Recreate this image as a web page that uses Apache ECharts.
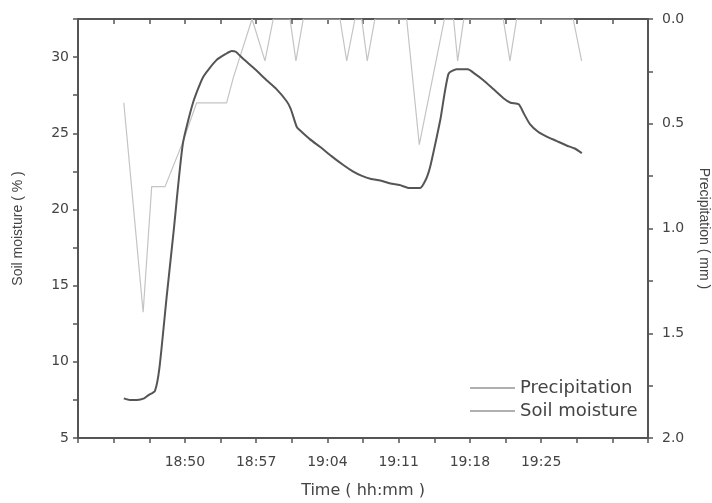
<!DOCTYPE html>
<html>
<head>
<meta charset="utf-8">
<script src="https://cdn.jsdelivr.net/npm/echarts@6/dist/echarts.min.js"></script>
<style>html,body{margin:0;padding:0;background:#fff;}#c{width:712px;height:503px;}</style>
</head>
<body>
<div id="c"></div>
<script>
// Time in minutes after 18:00
const soilTime = [44.0,44.6,45.3,46.0,46.4,47.06,47.5,48.2,48.9,49.8,50.8,51.8,53.1,54.0,54.6,55.0,55.7,56.9,58.0,59.0,60.0,60.4,61.0,61.3,62.3,63.3,64.4,65.6,66.5,67.4,68.3,69.2,70.2,71.1,72.1,73.1,73.7,74.1,74.6,75.1,75.9,76.7,77.8,78.5,79.3,80.3,81.3,82.0,82.8,83.3,83.9,84.7,85.5,86.5,87.5,88.3,89.0];
const soilMoisture = [7.6,7.5,7.5,7.6,7.8,8.1,9.6,14.2,18.6,24.3,27.0,28.7,29.8,30.2,30.4,30.35,29.9,29.2,28.5,27.9,27.1,26.6,25.4,25.2,24.6,24.1,23.5,22.9,22.5,22.2,22.0,21.9,21.7,21.6,21.4,21.4,22.0,22.8,24.3,25.9,28.9,29.2,29.2,28.9,28.5,27.9,27.3,27.0,26.9,26.3,25.6,25.1,24.8,24.5,24.2,24.0,23.7];

const precTime = [44.0,45.9,46.74,48.05,49.7,51.16,54.1,54.76,56.6,57.87,58.68,60.33,60.91,61.63,65.24,65.9,66.71,67.37,67.92,68.67,71.79,73.03,75.5,76.4,76.8,77.4,81.28,81.94,82.59,88.15,88.98];
const precipitation = [0.4,1.4,0.8,0.8,0.6,0.4,0.4,0.28,0.0,0.2,0.0,0.0,0.2,0.0,0.0,0.2,0.0,0.0,0.2,0.0,0.0,0.6,0.0,0.0,0.2,0.0,0.0,0.2,0.0,0.0,0.2];

const xTickLabels = ['18:50','18:57','19:04','19:11','19:18','19:25'];
const xMin = 39.5, xMax = 95.5, xStep = 3.5;

const toMin = s => { const p = s.split(':'); return (+p[0] - 18) * 60 + (+p[1]); };
const fmt = v => { const h = 18 + Math.floor(v / 60); const m = Math.round(v % 60); return h + ':' + (m < 10 ? '0' + m : m); };
const xLabelValues = xTickLabels.map(toMin);
const xTickValues = [];
for (let v = xMin; v <= xMax + 1e-6; v += xStep) xTickValues.push(+v.toFixed(2));

const soilData = soilTime.map((t, i) => [t, soilMoisture[i]]);
const precData = precTime.map((t, i) => [t, precipitation[i]]);

const axisCol = '#555';
const textCol = '#444';
const FONT = 'DejaVu Sans';

const chart = echarts.init(document.getElementById('c'), null, {renderer: 'canvas'});
chart.setOption({
  animation: false,
  backgroundColor: '#fff',
  textStyle: {fontFamily: FONT},
  grid: {left: 78, right: 64, top: 19, bottom: 65, containLabel: false, outerBoundsMode: 'none'},
  legend: {
    orient: 'vertical', left: 465, top: 374, itemWidth: 45, itemHeight: 2, itemGap: 5,
    icon: 'rect',
    textStyle: {fontFamily: FONT, fontSize: 18, color: textCol},
    data: [
      {name: 'Precipitation', icon: 'rect', itemStyle: {color: '#b0b0b0'}},
      {name: 'Soil moisture', icon: 'rect', itemStyle: {color: '#b0b0b0'}}
    ]
  },
  xAxis: [{
    type: 'value', min: xMin, max: xMax, position: 'bottom',
    name: 'Time ( hh:mm )', nameLocation: 'middle', nameGap: 45,
    nameTextStyle: {fontFamily: FONT, fontSize: 16, color: textCol},
    axisLine: {show: true, onZero: false, lineStyle: {color: axisCol, width: 2}},
    axisTick: {show: true, inside: false, length: 5, customValues: xTickValues, lineStyle: {color: axisCol, width: 1.5}},
    axisLabel: {show: true, customValues: xLabelValues, formatter: v => fmt(v), margin: 17, fontFamily: FONT, fontSize: 14, color: textCol},
    splitLine: {show: false}
  }, {
    type: 'value', min: xMin, max: xMax, position: 'top',
    axisLine: {show: true, onZero: false, lineStyle: {color: axisCol, width: 2}},
    axisTick: {show: true, inside: true, length: 5, customValues: xTickValues, lineStyle: {color: axisCol, width: 1.5}},
    axisLabel: {show: false},
    splitLine: {show: false}
  }],
  yAxis: [{
    type: 'value', min: 5, max: 32.5, interval: 2.5, position: 'left',
    name: 'Soil moisture ( % )', nameLocation: 'middle', nameGap: 53,
    nameTextStyle: {fontFamily: 'Liberation Sans', fontSize: 14, color: textCol},
    axisLine: {show: true, onZero: false, lineStyle: {color: axisCol, width: 2}},
    axisTick: {show: true, length: 5, lineStyle: {color: axisCol, width: 1.5}},
    axisLabel: {margin: 9, fontFamily: FONT, fontSize: 14, color: textCol,
      formatter: v => (Math.abs(v % 5) < 1e-6 ? String(v) : '')},
    splitLine: {show: false}
  }, {
    type: 'value', min: 0, max: 2, interval: 0.25, inverse: true, position: 'right',
    name: 'Precipitation ( mm )', nameLocation: 'middle', nameGap: 49, nameRotate: -90,
    nameTextStyle: {fontFamily: 'Liberation Sans', fontSize: 14, color: textCol},
    axisLine: {show: true, onZero: false, lineStyle: {color: axisCol, width: 2}},
    axisTick: {show: true, length: 5, lineStyle: {color: axisCol, width: 1.5}},
    axisLabel: {margin: 14, fontFamily: FONT, fontSize: 14, color: textCol,
      formatter: v => (Math.abs((v * 2) % 1) < 1e-6 ? v.toFixed(1) : '')},
    splitLine: {show: false}
  }],
  series: [{
    name: 'Precipitation', type: 'line', xAxisIndex: 0, yAxisIndex: 1,
    data: precData, symbol: 'none', lineStyle: {color: '#c4c4c4', width: 1.2}, itemStyle: {color: '#c4c4c4'}, z: 2
  }, {
    name: 'Soil moisture', type: 'line', xAxisIndex: 0, yAxisIndex: 0,
    data: soilData, symbol: 'none', smooth: 0.2, lineStyle: {color: '#555', width: 2}, itemStyle: {color: '#555'}, z: 3
  }]
});
</script>
</body>
</html>
